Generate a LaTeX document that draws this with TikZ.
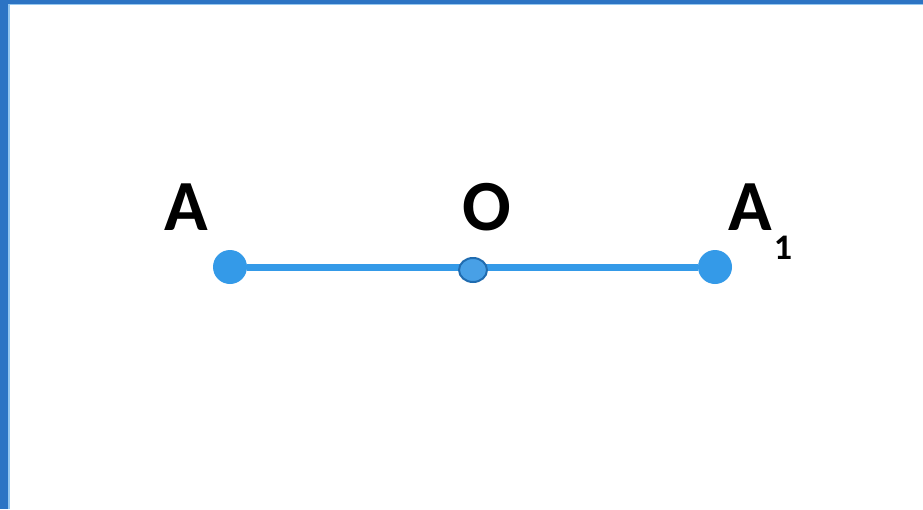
\documentclass[tikz,border=0pt]{standalone}
\usepackage{fontspec}
\setmainfont{Carlito}
\usetikzlibrary{shapes.geometric}

\definecolor{segblue}{RGB}{52,154,232}
\definecolor{framblue}{RGB}{44,116,196}
\definecolor{edgeblue}{RGB}{150,200,240}
\definecolor{midline}{RGB}{32,108,176}
\definecolor{midfill}{RGB}{72,160,230}

\tikzset{
  endpt/.style={circle,fill=segblue,inner sep=0pt,minimum size=34pt},
  midpt/.style={ellipse,draw=midline,line width=2pt,fill=midfill,inner sep=0pt,minimum width=28pt,minimum height=24pt},
  ptlabel/.style={inner sep=0pt,font=\fontsize{72}{72}\selectfont\bfseries}
}

\begin{document}
\begin{tikzpicture}[x=1pt,y=-1pt]
      \useasboundingbox (0,0) rectangle (923,509);
      \fill[white] (0,0) rectangle (923,509);
      % frame at the top and left
      \fill[framblue] (0,0) rectangle (8,509);
      \fill[framblue] (0,0) rectangle (923,3.5);
      \draw[edgeblue, line width=1.5pt] (9,509) -- (9,4.5) -- (923,4.5);
      % points
      \node[endpt] (A) at (230,267) {};
      \node[endpt] (A1) at (715,267) {};
      \draw[segblue, line width=7pt] (A) -- (A1);
      \node[midpt] (O) at (473,270) {};
      % labels
      \node[ptlabel,anchor=base] (labA) at (186,230) {A};
      \node[ptlabel,anchor=base] (labO) at (487,230) {O};
      \node[ptlabel,anchor=base west] (labA1) at (728,230) {A\hspace{2pt}\raisebox{-29pt}{\fontsize{36}{36}\selectfont 1}};
\end{tikzpicture}
\end{document}
